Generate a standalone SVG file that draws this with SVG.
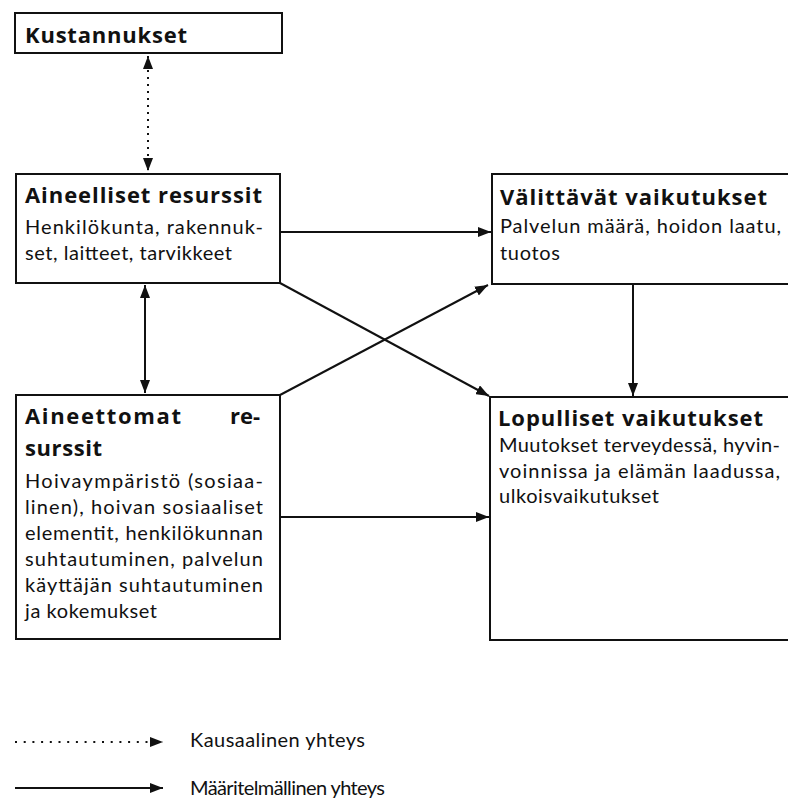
<svg xmlns="http://www.w3.org/2000/svg" width="788" height="807" viewBox="0 0 788 807">
<style>
  .box{fill:#fff;stroke:#111;stroke-width:2}
  .t{font-family:"Open Sans",Lato,"Liberation Sans",sans-serif;font-weight:bold;font-size:22px;fill:#111}
  .b{font-family:Lato,"Open Sans","Liberation Sans",sans-serif;font-size:20px;fill:#111}
  .e{text-anchor:end}
  .lg{font-family:Lato,"Open Sans","Liberation Sans",sans-serif;font-size:20px;fill:#111}
  .c{stroke:#111;stroke-width:2;fill:none}
  .d{stroke:#111;stroke-width:2;fill:none;stroke-dasharray:2 5}
</style>
<defs>
  <marker id="ah" viewBox="0 0 13 10" refX="13" refY="5" markerWidth="13" markerHeight="10" orient="auto-start-reverse" markerUnits="userSpaceOnUse">
    <path d="M0,0 L13,5 L0,10 z" fill="#111"/>
  </marker>
</defs>
<rect width="788" height="807" fill="#fff"/>

<g id="kustannukset">
  <rect class="box" x="15" y="13" width="267" height="40"/>
  <text class="t" x="25" y="43" textLength="162" lengthAdjust="spacing">Kustannukset</text>
</g>

<g id="aineelliset">
  <rect class="box" x="16" y="174" width="264" height="109"/>
  <text class="t" x="25" y="203" textLength="237" lengthAdjust="spacing">Aineelliset resurssit</text>
  <text class="b" x="25" y="234" textLength="238" lengthAdjust="spacing">Henkilökunta, rakennuk-</text>
  <text class="b" x="25" y="260" textLength="207" lengthAdjust="spacing">set, laitteet, tarvikkeet</text>
</g>

<g id="aineettomat">
  <rect class="box" x="16" y="395" width="264" height="244"/>
  <text class="t" x="25" y="424" textLength="156" lengthAdjust="spacing">Aineettomat</text>
  <text class="t e" x="260" y="424">re-</text>
  <text class="t" x="25" y="456" textLength="77" lengthAdjust="spacing">surssit</text>
  <text class="b" x="25" y="488" textLength="238" lengthAdjust="spacing">Hoivaympäristö (sosiaa-</text>
  <text class="b" x="25" y="514" textLength="238" lengthAdjust="spacing">linen), hoivan sosiaaliset</text>
  <text class="b" x="25" y="540" textLength="238" lengthAdjust="spacing">elementit, henkilökunnan</text>
  <text class="b" x="25" y="566" textLength="238" lengthAdjust="spacing">suhtautuminen, palvelun</text>
  <text class="b" x="25" y="592" textLength="238" lengthAdjust="spacing">käyttäjän suhtautuminen</text>
  <text class="b" x="25" y="618" textLength="132" lengthAdjust="spacing">ja kokemukset</text>
</g>

<g id="valittavat">
  <rect class="box" x="492" y="174" width="310" height="110"/>
  <text class="t" x="500" y="205" textLength="267" lengthAdjust="spacing">Välittävät vaikutukset</text>
  <text class="b" x="500" y="233" textLength="281" lengthAdjust="spacing">Palvelun määrä, hoidon laatu,</text>
  <text class="b" x="500" y="260" textLength="60" lengthAdjust="spacing">tuotos</text>
</g>

<g id="lopulliset">
  <rect class="box" x="490" y="397" width="312" height="243"/>
  <text class="t" x="498" y="426" textLength="265" lengthAdjust="spacing">Lopulliset vaikutukset</text>
  <text class="b" x="499" y="452" textLength="281" lengthAdjust="spacing">Muutokset terveydessä, hyvin-</text>
  <text class="b" x="499" y="478" textLength="281" lengthAdjust="spacing">voinnissa ja elämän laadussa,</text>
  <text class="b" x="499" y="503" textLength="160" lengthAdjust="spacing">ulkoisvaikutukset</text>
</g>

<g id="connectors">
  <line class="d" x1="148" y1="56" x2="148" y2="171" marker-start="url(#ah)" marker-end="url(#ah)"/>
  <line class="c" x1="145" y1="285" x2="145" y2="393" marker-start="url(#ah)" marker-end="url(#ah)"/>
  <line class="c" x1="280" y1="232" x2="491" y2="232" marker-end="url(#ah)"/>
  <line class="c" x1="280" y1="283" x2="489" y2="396" marker-end="url(#ah)"/>
  <line class="c" x1="280" y1="395" x2="488" y2="285" marker-end="url(#ah)"/>
  <line class="c" x1="633" y1="284" x2="633" y2="396" marker-end="url(#ah)"/>
  <line class="c" x1="280" y1="517" x2="489" y2="517" marker-end="url(#ah)"/>
</g>

<g id="legend">
  <line x1="15" y1="742" x2="163" y2="742" stroke="#111" stroke-width="2" stroke-dasharray="2 6.7" marker-end="url(#ah)"/>
  <text class="lg" x="190" y="747" textLength="175" lengthAdjust="spacing">Kausaalinen yhteys</text>
  <line class="c" x1="15" y1="788" x2="163" y2="788" marker-end="url(#ah)"/>
  <text class="lg" x="190" y="795" textLength="195" lengthAdjust="spacing">Määritelmällinen yhteys</text>
</g>
</svg>
